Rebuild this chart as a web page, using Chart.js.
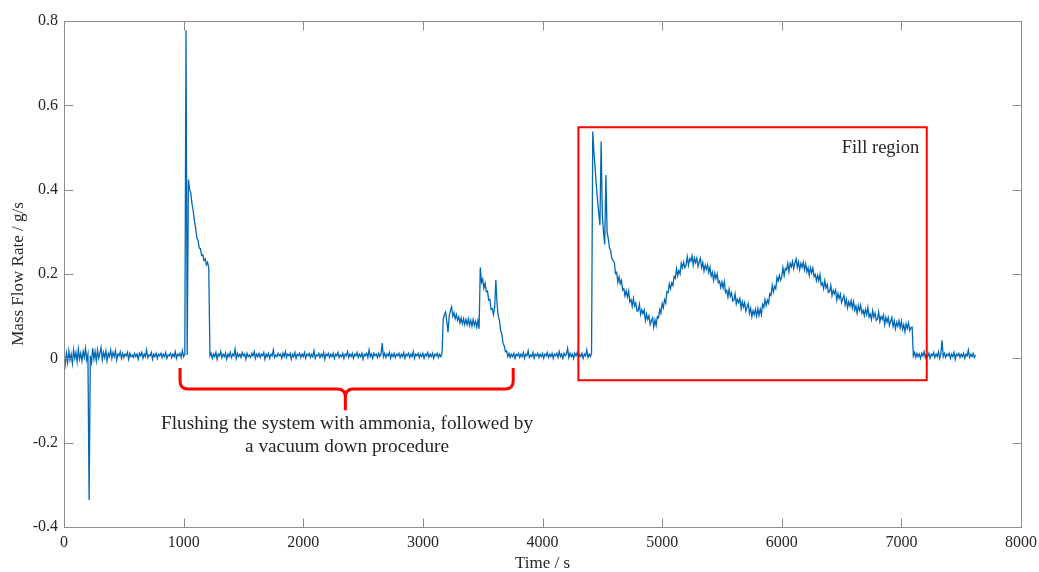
<!DOCTYPE html>
<html>
<head>
<meta charset="utf-8">
<script src="https://cdn.jsdelivr.net/npm/chart.js@4.4.1/dist/chart.umd.min.js"></script>
<style>
  html, body { margin: 0; padding: 0; background: #fff; }
  #wrap { width: 1039px; height: 572px; }
</style>
</head>
<body>
<div id="wrap"><canvas id="flow" width="1039" height="572"></canvas></div>
<script>
// mass flow rate / g/s, logged every 10 s from t = 0 (one row = 200 s)
const sampleStep = 10;
const flow = [
  /* 0    */ 0.002,-0.016,0.012,-0.010,0.018,-0.004,0.010,-0.012,0.020,0.000,0.014,-0.008,0.022,-0.002,0.012,-0.006,0.016,0.002,0.024,-0.004,
  /* 200  */ 0.010,-0.336,0.006,-0.010,0.024,-0.002,0.016,-0.006,0.020,0.000,0.012,0.026,-0.004,0.014,0.002,0.018,-0.006,0.012,0.004,0.020,
  /* 400  */ 0.000,0.014,0.004,0.018,-0.004,0.010,0.006,0.016,0.000,0.012,0.002,0.010,0.006,0.014,-0.002,0.012,0.004,0.008,0.002,0.012,
  /* 600  */ 0.004,0.010,-0.002,0.012,0.006,0.014,0.000,0.010,0.004,0.020,0.002,0.008,0.006,0.014,-0.002,0.010,0.004,0.012,0.000,0.010,
  /* 800  */ 0.006,0.012,0.002,0.010,0.004,0.014,0.000,0.008,0.006,0.012,0.002,0.010,0.004,0.016,0.000,0.010,0.006,0.012,0.002,0.018,
  /* 1000 */ 0.004,0.010,0.778,0.008,0.424,0.400,0.392,0.366,0.350,0.326,0.310,0.286,0.280,0.262,0.260,0.244,0.246,0.232,0.236,0.222,
  /* 1200 */ 0.228,0.214,0.006,0.012,0.000,0.010,0.004,0.014,-0.002,0.010,0.006,0.016,0.002,0.010,0.004,0.012,-0.002,0.010,0.004,0.014,
  /* 1400 */ 0.002,0.010,0.006,0.022,0.000,0.012,0.004,0.010,0.002,0.014,0.006,0.010,-0.002,0.012,0.004,0.008,0.002,0.012,0.006,0.016,
  /* 1600 */ 0.000,0.010,0.004,0.012,0.002,0.010,0.006,0.014,-0.002,0.010,0.004,0.012,0.000,0.010,0.006,0.020,0.002,0.008,0.004,0.012,
  /* 1800 */ 0.006,0.010,0.000,0.012,0.004,0.016,0.002,0.010,0.006,0.012,-0.002,0.010,0.004,0.014,0.000,0.010,0.006,0.012,0.002,0.010,
  /* 2000 */ 0.004,0.014,0.000,0.010,0.006,0.012,0.002,0.010,0.004,0.018,0.000,0.008,0.006,0.012,0.002,0.010,0.004,0.014,-0.002,0.010,
  /* 2200 */ 0.006,0.012,0.002,0.010,0.004,0.012,0.000,0.010,0.006,0.014,0.002,0.008,0.004,0.012,0.000,0.010,0.006,0.016,0.002,0.010,
  /* 2400 */ 0.004,0.012,0.000,0.010,0.006,0.014,0.002,0.010,0.004,0.012,-0.002,0.010,0.006,0.012,0.002,0.020,0.004,0.010,0.000,0.012,
  /* 2600 */ 0.006,0.010,0.002,0.012,0.004,0.010,0.036,0.004,0.012,0.002,0.010,0.006,0.014,0.000,0.010,0.004,0.012,0.002,0.010,0.006,
  /* 2800 */ 0.012,0.002,0.010,0.004,0.014,0.000,0.010,0.006,0.012,0.002,0.010,0.004,0.016,0.000,0.010,0.006,0.012,0.002,0.010,0.004,
  /* 3000 */ 0.012,0.000,0.010,0.006,0.014,0.002,0.010,0.004,0.012,0.000,0.010,0.006,0.012,0.002,0.010,0.004,0.012,0.092,0.104,0.110,
  /* 3200 */ 0.088,0.062,0.100,0.112,0.122,0.100,0.108,0.094,0.104,0.090,0.098,0.084,0.096,0.082,0.094,0.080,0.092,0.080,0.094,0.078,
  /* 3400 */ 0.090,0.076,0.092,0.078,0.088,0.074,0.090,0.070,0.216,0.180,0.188,0.166,0.178,0.158,0.160,0.138,0.140,0.116,0.118,0.104,
  /* 3600 */ 0.120,0.186,0.130,0.100,0.090,0.066,0.058,0.036,0.030,0.016,0.018,0.004,0.012,0.002,0.010,0.004,0.012,0.000,0.010,0.006,
  /* 3800 */ 0.012,0.002,0.010,0.004,0.014,0.000,0.010,0.006,0.018,0.002,0.008,0.004,0.014,0.000,0.010,0.006,0.012,0.002,0.010,0.004,
  /* 4000 */ 0.012,0.000,0.010,0.006,0.014,0.002,0.010,0.004,0.012,0.000,0.010,0.006,0.012,0.002,0.016,0.004,0.010,0.000,0.012,0.006,
  /* 4200 */ 0.010,0.024,0.002,0.012,0.004,0.010,0.000,0.012,0.006,0.014,0.002,0.010,0.004,0.012,0.000,0.010,0.006,0.020,0.002,0.010,
  /* 4400 */ 0.004,0.012,0.538,0.490,0.450,0.410,0.376,0.344,0.316,0.514,0.340,0.300,0.270,0.435,0.300,0.284,0.262,0.256,0.236,0.232,
  /* 4600 */ 0.228,0.201,0.204,0.180,0.193,0.177,0.185,0.162,0.165,0.148,0.160,0.146,0.160,0.134,0.139,0.123,0.142,0.124,0.131,0.112,
  /* 4800 */ 0.113,0.128,0.104,0.115,0.106,0.115,0.090,0.105,0.092,0.101,0.080,0.089,0.096,0.074,0.091,0.078,0.099,0.096,0.116,0.107,
  /* 5000 */ 0.130,0.120,0.139,0.131,0.158,0.156,0.177,0.165,0.179,0.173,0.194,0.190,0.213,0.196,0.208,0.200,0.226,0.215,0.228,0.215,
  /* 5200 */ 0.221,0.241,0.221,0.236,0.231,0.243,0.221,0.238,0.227,0.238,0.218,0.229,0.237,0.215,0.227,0.207,0.221,0.211,0.222,0.203,
  /* 5400 */ 0.216,0.195,0.204,0.185,0.202,0.189,0.200,0.179,0.183,0.168,0.181,0.167,0.182,0.156,0.161,0.145,0.164,0.147,0.155,0.136,
  /* 5600 */ 0.138,0.153,0.129,0.140,0.132,0.142,0.118,0.134,0.122,0.132,0.112,0.122,0.130,0.107,0.119,0.099,0.113,0.103,0.116,0.100,
  /* 5800 */ 0.118,0.102,0.117,0.104,0.128,0.121,0.139,0.125,0.138,0.131,0.153,0.149,0.173,0.157,0.171,0.165,0.192,0.183,0.197,0.185,
  /* 6000 */ 0.193,0.215,0.196,0.213,0.210,0.225,0.205,0.225,0.217,0.230,0.213,0.226,0.236,0.216,0.229,0.210,0.225,0.216,0.228,0.210,
  /* 6200 */ 0.224,0.205,0.215,0.197,0.215,0.203,0.214,0.194,0.199,0.184,0.197,0.184,0.199,0.174,0.179,0.165,0.184,0.167,0.175,0.156,
  /* 6400 */ 0.158,0.173,0.149,0.161,0.153,0.162,0.138,0.154,0.142,0.152,0.132,0.141,0.149,0.127,0.140,0.120,0.134,0.124,0.137,0.119,
  /* 6600 */ 0.134,0.114,0.124,0.107,0.125,0.113,0.126,0.107,0.114,0.101,0.116,0.104,0.121,0.098,0.105,0.092,0.113,0.098,0.107,0.090,
  /* 6800 */ 0.093,0.110,0.087,0.099,0.092,0.103,0.080,0.097,0.086,0.097,0.078,0.088,0.097,0.076,0.089,0.070,0.085,0.076,0.089,0.072,
  /* 7000 */ 0.088,0.069,0.080,0.063,0.082,0.071,0.084,0.066,0.073,0.074,0.006,0.014,0.002,0.012,0.004,0.010,0.000,0.012,0.006,0.016,
  /* 7200 */ 0.002,0.010,0.004,0.012,0.000,0.010,0.006,0.014,0.002,0.010,0.004,0.016,0.000,0.010,0.043,0.004,0.012,0.002,0.010,0.006,
  /* 7400 */ 0.012,0.000,0.010,0.004,0.014,-0.002,0.010,0.006,0.012,0.002,0.010,0.004,0.012,0.000,0.010,0.006,0.020,0.002,0.010,0.004,
  /* 7600 */ 0.012,0.002,0.008
];
const time = flow.map((_, i) => i * sampleStep);

const xTicks = [0, 1000, 2000, 3000, 4000, 5000, 6000, 7000, 8000];
const yTicks = [-0.4, -0.2, 0, 0.2, 0.4, 0.6, 0.8];

// annotation anchors, in data units
const fillBoxX = [4300, 7212];
const fillBoxY = [-0.052, 0.548];
const fillLabel = 'Fill region';
const fillLabelAt = [6825, 0.499];
const braceX = [970, 2352, 3755];
const braceY = [-0.023, -0.073, -0.123];
const flushLabel = ['Flushing the system with ammonia, followed by', 'a vacuum down procedure'];
const flushLabelX = 2366;
const flushLabelY = [-0.156, -0.211];

const serif = "'Liberation Serif', 'DejaVu Serif', serif";
const textColor = '#262626';
const axisColor = '#8c8c8c';

const frame = {
  id: 'frame',
  afterDraw(chart) {
    const {ctx, chartArea: a, scales: {x, y}} = chart;
    ctx.save();
    // MATLAB style box with inward ticks on all four sides
    ctx.strokeStyle = axisColor;
    ctx.lineWidth = 1;
    const l = Math.round(a.left) + 0.5, r = Math.round(a.right) + 0.5;
    const t = Math.round(a.top) + 0.5, b = Math.round(a.bottom) + 0.5;
    ctx.strokeRect(l, t, r - l, b - t);
    ctx.beginPath();
    xTicks.forEach(v => {
      const px = Math.round(x.getPixelForValue(v)) + 0.5;
      ctx.moveTo(px, b); ctx.lineTo(px, b - 9);
      ctx.moveTo(px, t); ctx.lineTo(px, t + 9);
    });
    yTicks.forEach(v => {
      const py = Math.round(y.getPixelForValue(v)) + 0.5;
      ctx.moveTo(l, py); ctx.lineTo(l + 9, py);
      ctx.moveTo(r, py); ctx.lineTo(r - 9, py);
    });
    ctx.stroke();

    // fill region box
    ctx.strokeStyle = '#ff0000';
    ctx.lineWidth = 2;
    const bx0 = x.getPixelForValue(fillBoxX[0]), bx1 = x.getPixelForValue(fillBoxX[1]);
    const by0 = y.getPixelForValue(fillBoxY[1]), by1 = y.getPixelForValue(fillBoxY[0]);
    ctx.strokeRect(bx0, by0, bx1 - bx0, by1 - by0);

    // curly brace under the flushing section
    const L = x.getPixelForValue(braceX[0]), C = x.getPixelForValue(braceX[1]), R = x.getPixelForValue(braceX[2]);
    const yT = y.getPixelForValue(braceY[0]), yM = y.getPixelForValue(braceY[1]), yB = y.getPixelForValue(braceY[2]);
    const rad = 8;
    ctx.lineWidth = 3;
    ctx.lineJoin = 'round';
    ctx.beginPath();
    ctx.moveTo(L, yT);
    ctx.lineTo(L, yM - rad);
    ctx.quadraticCurveTo(L, yM, L + rad, yM);
    ctx.lineTo(C - rad, yM);
    ctx.quadraticCurveTo(C, yM, C, yM + rad);
    ctx.lineTo(C, yB);
    ctx.moveTo(C, yM + rad);
    ctx.quadraticCurveTo(C, yM, C + rad, yM);
    ctx.lineTo(R - rad, yM);
    ctx.quadraticCurveTo(R, yM, R, yM - rad);
    ctx.lineTo(R, yT);
    ctx.stroke();

    // annotation text
    ctx.fillStyle = textColor;
    ctx.textAlign = 'center';
    ctx.textBaseline = 'middle';
    ctx.font = '18.5px ' + serif;
    ctx.fillText(fillLabel, x.getPixelForValue(fillLabelAt[0]), y.getPixelForValue(fillLabelAt[1]));
    ctx.font = '19.3px ' + serif;
    flushLabel.forEach((s, i) => {
      ctx.fillText(s, x.getPixelForValue(flushLabelX), y.getPixelForValue(flushLabelY[i]));
    });
    ctx.restore();
  }
};

const chart = new Chart(document.getElementById('flow').getContext('2d'), {
  type: 'line',
  data: {
    labels: time,
    datasets: [{
      data: flow,
      borderColor: '#0068B5',
      borderWidth: 1.3,
      pointRadius: 0,
      tension: 0,
      fill: false
    }]
  },
  options: {
    responsive: false,
    animation: false,
    layout: { padding: { top: 21, right: 18, left: 0, bottom: 0 } },
    plugins: { legend: { display: false }, tooltip: { enabled: false } },
    scales: {
      x: {
        type: 'linear',
        min: 0,
        max: 8000,
        afterBuildTicks: s => { s.ticks = xTicks.map(v => ({value: v})); },
        afterFit: s => { s.height = 45; s.paddingLeft = 0; s.paddingRight = 0; },
        grid: { display: false, drawTicks: false },
        border: { display: false },
        ticks: {
          padding: 6,
          maxRotation: 0,
          color: textColor,
          font: { family: serif, size: 16 },
          callback: v => String(v)
        },
        title: {
          display: true,
          text: 'Time / s',
          color: textColor,
          font: { family: serif, size: 17, lineHeight: 1 },
          padding: { top: 0, bottom: 0 }
        }
      },
      y: {
        type: 'linear',
        min: -0.4,
        max: 0.8,
        afterBuildTicks: s => { s.ticks = yTicks.map(v => ({value: v})); },
        afterFit: s => { s.width = 64; s.paddingTop = 0; s.paddingBottom = 0; },
        grid: { display: false, drawTicks: false },
        border: { display: false },
        ticks: {
          padding: 6,
          color: textColor,
          font: { family: serif, size: 16 },
          callback: v => (Math.abs(v) < 1e-9 ? '0' : v.toFixed(1))
        },
        title: {
          display: true,
          text: 'Mass Flow Rate / g/s',
          color: textColor,
          font: { family: serif, size: 17, lineHeight: 1 },
          padding: { top: 10, bottom: 0 }
        }
      }
    }
  },
  plugins: [frame]
});
</script>
</body>
</html>
